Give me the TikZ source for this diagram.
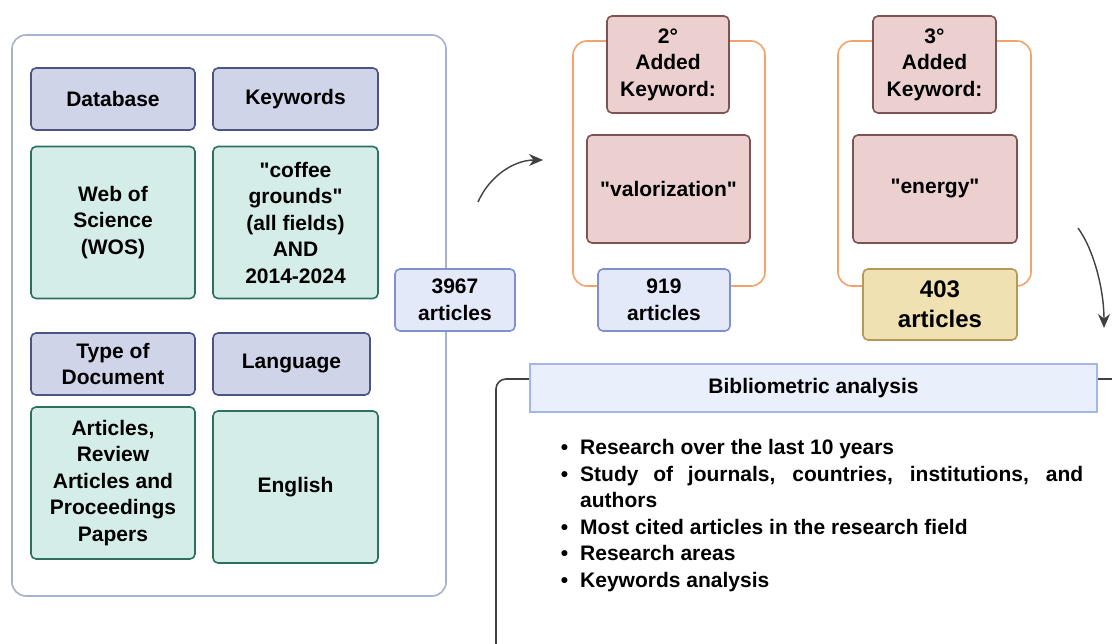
\documentclass[tikz,border=0pt]{standalone}
\usepackage{fontspec}
\setmainfont{Liberation Sans}[Ligatures=TeXOff]
\usetikzlibrary{arrows.meta, positioning, calc}

\definecolor{hdrfill}{HTML}{CFD4E8}
\definecolor{hdrline}{HTML}{4B5585}
\definecolor{valfill}{HTML}{D4EDE8}
\definecolor{valline}{HTML}{2E7060}
\definecolor{cntfill}{HTML}{E4E9FA}
\definecolor{cntline}{HTML}{8090CC}
\definecolor{kwfill}{HTML}{ECD0D0}
\definecolor{kwline}{HTML}{7D5353}
\definecolor{goldfill}{HTML}{F0E1B2}
\definecolor{goldline}{HTML}{B8975A}
\definecolor{orangeline}{HTML}{F2A36C}
\definecolor{frameline}{HTML}{A8B0D0}
\definecolor{bibfill}{HTML}{E9EFFB}
\definecolor{bibline}{HTML}{A3B7E6}
\definecolor{darkline}{HTML}{404040}

\begin{document}
\begin{tikzpicture}[x=1pt, y=-1pt,
    font=\bfseries\fontsize{21}{26.5}\selectfont,
    box/.style={rounded corners=5pt, line width=1.6pt, align=center, inner sep=2pt},
    hdrbox/.style={box, fill=hdrfill, draw=hdrline, minimum width=164pt, minimum height=62pt},
    valbox/.style={box, fill=valfill, draw=valline, minimum width=164pt, minimum height=152pt},
    cntbox/.style={box, fill=cntfill, draw=cntline, minimum height=62pt},
    kwbox/.style={box, fill=kwfill, draw=kwline},
    goldbox/.style={box, fill=goldfill, draw=goldline, font=\bfseries\fontsize{24}{30}\selectfont},
    flow/.style={-{Stealth[length=14pt, width=12pt]}, line width=1.4pt, darkline}]
  \useasboundingbox (0,0) rectangle (1112,644);

  % left search box
  \draw[frameline, line width=1.6pt, rounded corners=14pt] (12,35) rectangle (446,596);
  \node[hdrbox] (db) at (113,99) {Database};
  \node[hdrbox, minimum width=165pt] (kw) at (295.5,99) {Keywords};
  \node[valbox] (wos) at (113,222.5) {Web of\\Science\\(WOS)};
  \node[valbox, minimum width=165pt] (cg) at (295.5,222.5) {"coffee\\grounds"\\(all fields)\\AND\\2014-2024};
  \node[hdrbox] (doc) at (113,364) {Type of\\Document};
  \node[hdrbox, minimum width=157pt] (lang) at (291.5,364) {Language};
  \node[valbox] (art) at (113,483) {Articles,\\Review\\Articles and\\Proceedings\\Papers};
  \node[valbox, minimum width=165pt] (eng) at (295.5,487) {English};

  \node[cntbox, minimum width=120pt] (n1) at (455,300) {3967\\articles};

  % arrow to the second keyword
  \coordinate (a1s) at (478,202);
  \coordinate (a1e) at (543,160);
  \draw[flow] (a1s) .. controls (490,175) and (515,160) .. (a1e);

  % second keyword
  \draw[orangeline, line width=1.6pt, rounded corners=14pt] (573,41) rectangle (765,286);
  \node[kwbox, minimum width=122pt, minimum height=97pt] (k2) at (668,64.5) {2°\\Added\\Keyword:};
  \node[kwbox, minimum width=163pt, minimum height=108pt] (v2) at (668.5,189) {"valorization"};
  \node[cntbox, minimum width=132pt] (n2) at (664,300) {919\\articles};

  % third keyword
  \draw[orangeline, line width=1.6pt, rounded corners=14pt] (838,41) rectangle (1031,286);
  \node[kwbox, minimum width=123pt, minimum height=97pt] (k3) at (934.5,64.5) {3°\\Added\\Keyword:};
  \node[kwbox, minimum width=164pt, minimum height=108pt] (v3) at (935,189) {"energy"};
  \node[goldbox, minimum width=154pt, minimum height=71pt] (n3) at (940,304.5) {403\\articles};

  % arrow down to the analysis
  \coordinate (a2s) at (1078,228);
  \coordinate (a2e) at (1104,328);
  \draw[flow] (a2s) .. controls (1094,250) and (1104,290) .. (a2e);

  % bibliometric analysis
  \draw[darkline, line width=1.6pt, rounded corners=10pt] (1112,379) -- (496,379) -- (496,644);
  \node[box, rounded corners=0pt, fill=bibfill, draw=bibline, minimum width=567pt, minimum height=48pt,
        font=\bfseries\fontsize{21}{24}\selectfont] (bib) at (813.5,388) {Bibliometric analysis};
  \node[anchor=north west, inner sep=0pt, text width=527pt, align=justify] (list) at (556,428) {%
    \hyphenpenalty=10000\exhyphenpenalty=10000
    \begin{list}{\textbullet}{\setlength{\leftmargin}{24pt}\setlength{\labelwidth}{12pt}%
        \setlength{\labelsep}{12pt}\setlength{\itemsep}{0pt}\setlength{\parsep}{0pt}%
        \setlength{\topsep}{0pt}\setlength{\partopsep}{0pt}}
      \item Research over the last 10 years
      \item Study of journals, countries, institutions, and authors
      \item Most cited articles in the research field
      \item Research areas
      \item Keywords analysis
    \end{list}};
\end{tikzpicture}
\end{document}
